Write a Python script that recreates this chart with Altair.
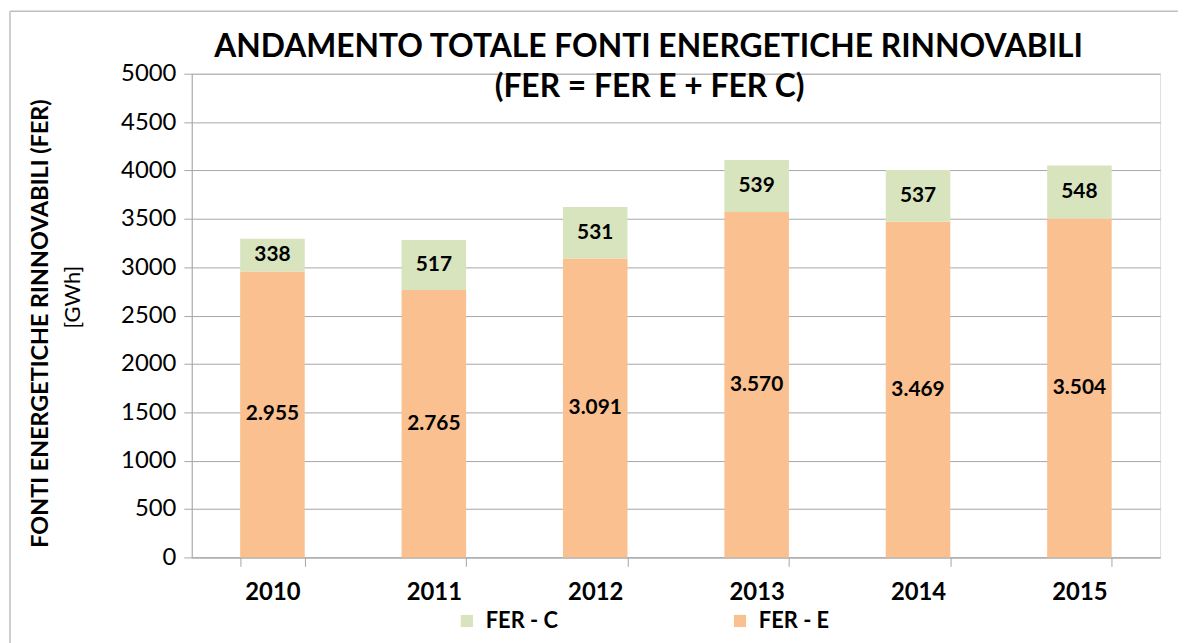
import altair as alt
import pandas as pd

years = ["2010", "2011", "2012", "2013", "2014", "2015"]
fer_e = [2955, 2765, 3091, 3570, 3469, 3504]
fer_c = [338, 517, 531, 539, 537, 548]
series = ["FER - C", "FER - E"]
colors = ["#D7E4BD", "#FAC090"]
title_lines = ["ANDAMENTO TOTALE FONTI ENERGETICHE RINNOVABILI", "(FER = FER E + FER C)"]
unit_text = "[GWh]"

rows = []
for y, e, c in zip(years, fer_e, fer_c):
    rows.append({"year": y, "serie": "FER - E", "value": e, "ord": 0,
                 "label": f"{e:,}".replace(",", ".")})
    rows.append({"year": y, "serie": "FER - C", "value": c, "ord": 1,
                 "label": f"{c:,}".replace(",", ".")})
df = pd.DataFrame(rows)
one = pd.DataFrame({"k": [0]})

FONT = "Lato"

base = alt.Chart(df).transform_stack(
    stack="value", as_=["y0", "y1"], groupby=["year"], sort=[{"field": "ord", "order": "ascending"}]
).transform_calculate(mid="(datum.y0 + datum.y1) / 2")

xenc = alt.X("year:N", title=None,
             scale=alt.Scale(paddingInner=0.6, paddingOuter=0.3),
             axis=alt.Axis(tickBand="extent", labelAngle=0, labelFont=FONT, labelFontSize=24,
                           labelFontWeight="bold", labelColor="#000000", labelPadding=14,
                           domainColor="#a6a6a6", tickColor="#a6a6a6", tickSize=9, grid=False))

bars = base.mark_bar().encode(
    x=xenc,
    y=alt.Y("y0:Q", scale=alt.Scale(domain=[0, 5000]),
            axis=alt.Axis(values=list(range(0, 5001, 500)), format="d", labelFont=FONT,
                          labelFontSize=24, labelColor="#000000", labelPadding=8,
                          domainColor="#a6a6a6", tickColor="#a6a6a6", tickSize=8,
                          gridColor="#a6a6a6",
                          title="FONTI ENERGETICHE  RINNOVABILI (FER)", titleFont=FONT,
                          titleFontSize=23.5, titleFontWeight="bold", titleColor="#000000",
                          titleAngle=270, titleX=-152, titleY=251, titleAlign="center",
                          titleBaseline="middle")),
    y2="y1:Q",
    color=alt.Color("serie:N", scale=alt.Scale(domain=series, range=colors),
                    legend=alt.Legend(title=None, orient="none", direction="horizontal",
                                      legendX=266, legendY=540, symbolType="square",
                                      symbolSize=150, symbolStrokeWidth=0, labelFont=FONT,
                                      labelFontSize=22, labelFontWeight="bold",
                                      labelColor="#000000", columnPadding=172, labelOffset=8)),
)

labels = base.mark_text(font=FONT, fontSize=21, fontWeight="bold", color="#000000").encode(
    x=alt.X("year:N"),
    y=alt.Y("mid:Q"),
    text="label:N",
)

unit = alt.Chart(one).mark_text(font=FONT, fontSize=22, color="#000000", angle=270,
                                align="center", baseline="middle").encode(
    x=alt.value(-120), y=alt.value(225), text=alt.value(unit_text)
)

title1 = alt.Chart(one).mark_text(font=FONT, fontSize=32, fontWeight="bold", color="#000000",
                                  align="center", baseline="alphabetic").encode(
    x=alt.value(460), y=alt.value(-17), text=alt.value(title_lines[0])
)
title2 = alt.Chart(one).mark_text(font=FONT, fontSize=32, fontWeight="bold", color="#000000",
                                  align="center", baseline="alphabetic").encode(
    x=alt.value(461), y=alt.value(23), text=alt.value(title_lines[1])
)

frame_top = alt.Chart(one).mark_rule(stroke="#bfbfbf", strokeWidth=1.5).encode(
    x=alt.value(-183), x2=alt.value(1300), y=alt.value(-63)
)
frame_left = alt.Chart(one).mark_rule(stroke="#bfbfbf", strokeWidth=1.5).encode(
    x=alt.value(-183), y=alt.value(-63), y2=alt.value(700)
)

chart = alt.layer(frame_top, frame_left, bars, labels, unit, title1, title2).properties(
    width=975, height=487,
    padding={"left": 185, "top": 64, "right": 18, "bottom": 84},
    autosize=alt.AutoSizeParams(type="none"),
).configure_view(stroke=None).configure(background="white")

chart.save("out.html", embed_options={"renderer": "svg", "actions": False})
